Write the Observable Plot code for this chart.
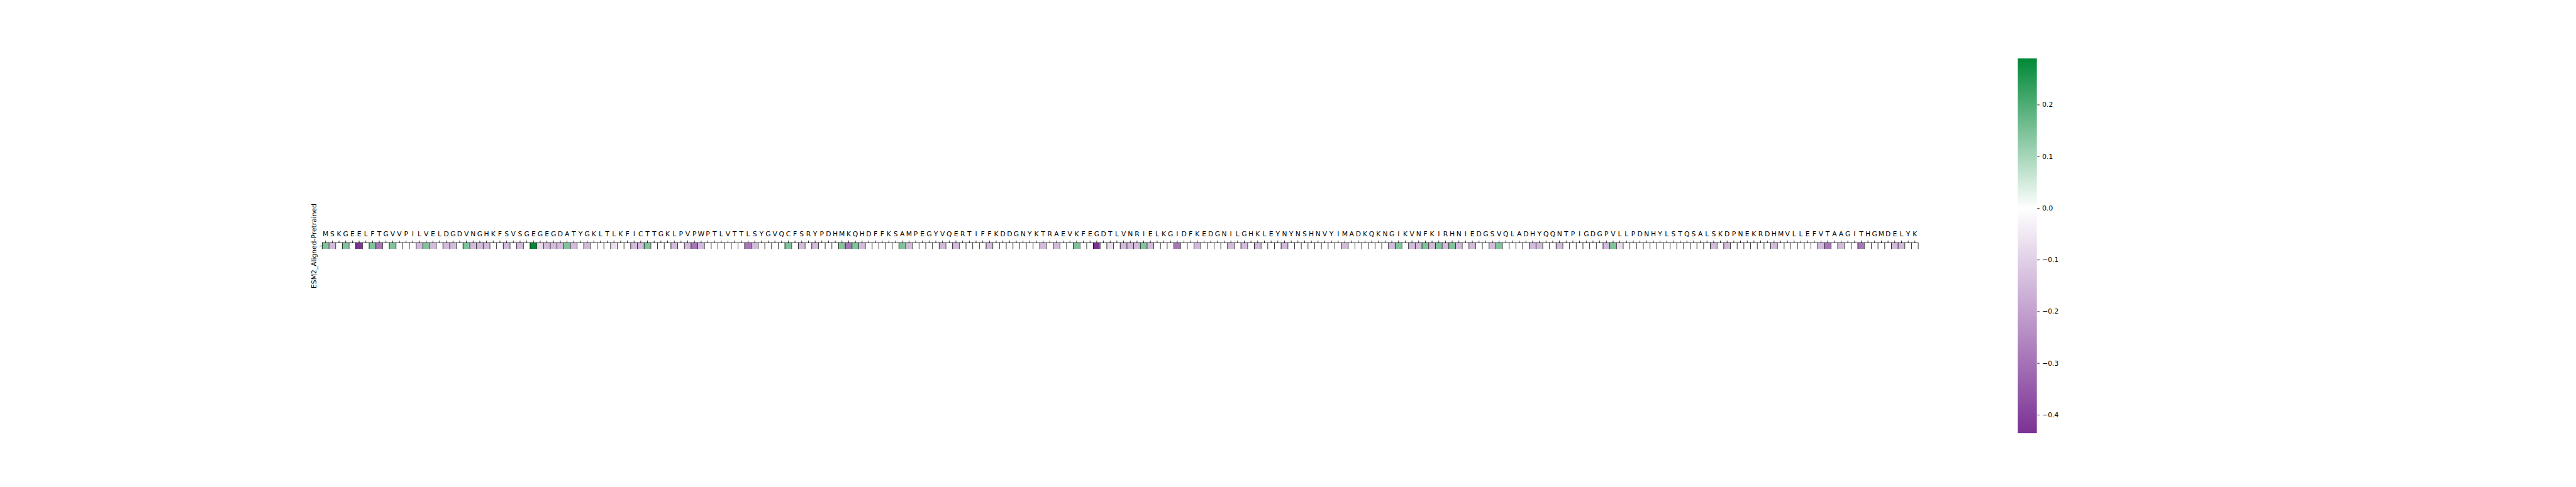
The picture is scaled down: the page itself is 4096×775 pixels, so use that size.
<!DOCTYPE html>
<html>
<head>
<meta charset="utf-8">
<script src="https://cdn.jsdelivr.net/npm/d3@7"></script>
<script src="https://cdn.jsdelivr.net/npm/@observablehq/plot@0.6"></script>
<style>
  html, body { margin: 0; padding: 0; background: #ffffff; }
  #wrap { position: relative; width: 4096px; height: 775px; overflow: hidden; background: #ffffff; }
  #wrap svg { position: absolute; top: 0; }
</style>
</head>
<body>
<div id="wrap"></div>
<script>
// ---------------- data ----------------
const models = ["ESM2_Aligned-Pretrained"];

const residues = ("MSKGEELFTGVVPILVELDGDVNGHKFSVSGEGEGDATYGKLTLKFICTTGKLPVPWPTLVTTLSYGVQCFSRYPDHMKQHDFFKSAMPEGYVQERTIFFKDDGNYKTRAEVKFEGDTLVNRIELKGIDFKEDGNILGHKLEYNYNSHNVYIMADKQKNGIKVNFKIRHNIEDGSVQLADHYQQNTPIGDGPVLLPDNHYLSTQSALSKDPNEKRDHMVLLEFVTAAGITHGMDELYK").split("");

const values = [
  0.145, -0.145, 0, 0.145, 0, -0.435, 0, 0.145, -0.29, 0, 0.145, 0, 0, 0, -0.145, 0.145, -0.145, 0, -0.145, -0.145,
  0, 0.145, -0.145, -0.145, -0.145, 0, 0, -0.145, 0, -0.145, 0, 0.29, -0.07, -0.145, -0.145, -0.145, 0.145, -0.145, 0, -0.145,
  0, 0, 0, -0.07, 0, 0, -0.145, -0.145, 0.145, 0, 0, 0, -0.145, 0, -0.145, -0.29, -0.145, 0, 0, 0,
  0, 0, 0, -0.29, -0.145, 0, 0, 0, 0, 0.145, 0, -0.145, 0, -0.145, 0, 0, 0, 0.145, -0.29, 0.145,
  -0.145, 0, 0, 0, 0, 0, 0.145, -0.145, 0, 0, 0, 0, -0.145, 0, -0.145, 0, 0, 0, 0, -0.145,
  0, 0, 0, 0, 0, 0, 0, -0.145, 0, -0.145, 0, 0, 0.145, 0, 0, -0.435, 0, -0.07, 0, -0.145,
  -0.145, -0.145, 0.145, -0.145, 0, 0, 0, -0.29, 0, 0, -0.145, 0, 0, 0, 0, -0.145, 0, -0.145, 0, -0.145,
  0, 0, 0, -0.145, 0, 0, 0, 0, 0, 0, 0, 0, -0.145, 0, 0, 0, 0, 0, 0, -0.145,
  0.145, 0, -0.145, -0.145, 0.145, -0.145, 0.145, -0.145, 0.145, -0.145, 0, -0.145, 0, 0, -0.145, 0.145, 0, 0, 0, 0,
  -0.145, -0.145, 0, 0, -0.145, 0, 0, 0, 0, 0, 0, -0.145, 0.145, -0.07, 0, 0, 0, 0, 0, 0,
  0, 0, 0, 0, 0, 0, 0, -0.145, 0, -0.145, 0, 0, 0, 0, 0, 0, -0.145, 0, 0, 0,
  0, 0, 0, -0.145, -0.29, 0, -0.145, 0, 0, -0.29, 0, 0, 0, 0, -0.145, -0.145, 0, 0
];

const colorTicks = [-0.4, -0.3, -0.2, -0.1, 0.0, 0.1, 0.2];
const colorDomain = [-0.435, 0.29];
const colorStops = ["#7b3294", "#ffffff", "#008837"];

// ---------------- layout (scaled 0.774) ----------------
const W = 4096, H = 775;
const frameL = 511.9, frameR = 3049.6, frameT = 385.8, frameB = 396.3;
const fontPx = 10.76;
const bw = (frameR - frameL) / residues.length;
const bh = frameB - frameT;

const table = residues.map((r, i) => ({pos: i, residue: r, model: models[0], value: values[i]}));

const [vmin, vmax] = colorDomain;
const t0 = (0 - vmin) / (vmax - vmin);
const lowI = d3.interpolateRgb(colorStops[0], colorStops[1]);
const highI = d3.interpolateRgb(colorStops[1], colorStops[2]);
const interp = (t) => t <= t0 ? lowI(t / t0) : highI((t - t0) / (1 - t0));
const colorScale = {type: "linear", domain: colorDomain, interpolate: interp, clamp: true};

const baseStyle = {fontFamily: "'DejaVu Sans', sans-serif", fontSize: fontPx + "px", color: "#000", background: "none", overflow: "visible"};

const main = Plot.plot({
  width: W, height: H,
  marginLeft: frameL, marginRight: W - frameR, marginTop: frameT, marginBottom: H - frameB,
  style: baseStyle,
  x: {type: "band", domain: table.map(d => d.pos), padding: 0},
  y: {type: "band", domain: models, padding: 0},
  color: colorScale,
  marks: [
    Plot.cell(table, {x: "pos", y: "model", fill: "value", inset: 0}),
    // cell separators (left edges, plus the final right edge) and top edge
    Plot.ruleX(table, {x: "pos", dx: -bw / 2, stroke: "#000", strokeWidth: 0.8}),
    Plot.ruleX([table[table.length - 1]], {x: "pos", dx: bw / 2, stroke: "#000", strokeWidth: 0.8}),
    Plot.ruleY(models, {y: (d) => d, dy: -bh / 2, stroke: "#000", strokeWidth: 0.8}),
    Plot.axisX({anchor: "top", tickSize: 4, tickPadding: 6.4, tickFormat: (i) => residues[i], label: null, strokeWidth: 0.85}),
    Plot.axisY({anchor: "left", tickSize: 3.6, tickFormat: () => "", label: null, strokeWidth: 0.85}),
    Plot.text(models, {y: (d) => d, text: (d) => d, frameAnchor: "left", dx: -12.7, rotate: -90,
      textAnchor: "middle", lineAnchor: "middle", fontSize: fontPx, fill: "#000"})
  ]
});

const cbLeft = 3208.2, cbWidth = 30.2, cbTop = 92.4, cbBottom = 688.7;
const cbW = 140;
const cbar = Plot.plot({
  width: cbW, height: H,
  marginLeft: 0, marginRight: cbW - cbWidth, marginTop: cbTop, marginBottom: H - cbBottom,
  style: baseStyle,
  x: {domain: [0, 1], axis: null},
  y: {domain: colorDomain},
  color: colorScale,
  marks: [
    Plot.raster({x1: 0, x2: 1, y1: vmin, y2: vmax, fill: (x, y) => y, pixelSize: 1, imageRendering: "auto"}),
    Plot.axisY(colorTicks, {anchor: "right", tickSize: 3.9, tickPadding: 4.6, label: null,
      tickFormat: d3.format(".1f"), strokeWidth: 0.85})
  ]
});
cbar.style.left = cbLeft + "px";
main.style.left = "0px";

const wrap = document.getElementById("wrap");
wrap.appendChild(main);
wrap.appendChild(cbar);
</script>
</body>
</html>
